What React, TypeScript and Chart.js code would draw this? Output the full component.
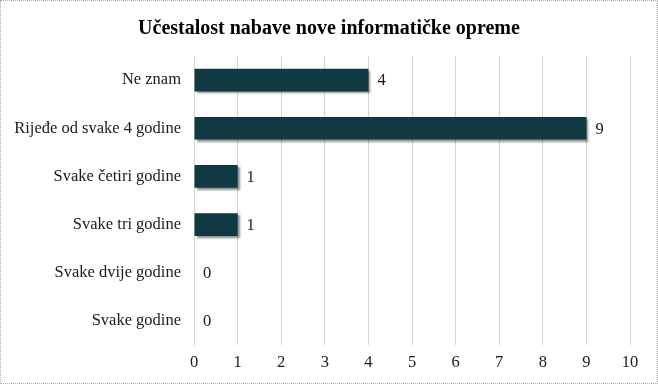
import React, { useEffect, useRef } from "react";
import { Chart, registerables } from "chart.js";

Chart.register(...registerables);

const categories = [
  "Ne znam",
  "Rijeđe od svake 4 godine",
  "Svake četiri godine",
  "Svake tri godine",
  "Svake dvije godine",
  "Svake godine",
];
const values = [4, 9, 1, 1, 0, 0];
const titleText = "Učestalost nabave nove informatičke opreme";
const xMin = 0;
const xMax = 10;

const FONT = "'Liberation Serif', 'Times New Roman', serif";

const shadowPlugin = {
  id: "barShadow",
  beforeDatasetsDraw(chart: any) {
    const ctx = chart.ctx;
    ctx.save();
    ctx.shadowColor = "rgba(0,0,0,0.45)";
    ctx.shadowOffsetX = 2;
    ctx.shadowOffsetY = 2;
    ctx.shadowBlur = 2;
  },
  afterDatasetsDraw(chart: any) {
    const ctx = chart.ctx;
    ctx.restore();
    const meta = chart.getDatasetMeta(0);
    ctx.save();
    ctx.font = `16.5px ${FONT}`;
    ctx.fillStyle = "#1a1a1a";
    ctx.textAlign = "left";
    ctx.textBaseline = "middle";
    meta.data.forEach((el: any, i: number) => {
      ctx.fillText(String(values[i]), el.x + 9, el.y + 1);
    });
    ctx.restore();
  },
  afterDraw(chart: any) {
    const ctx = chart.ctx;
    ctx.save();
    ctx.font = `bold 20px ${FONT}`;
    ctx.fillStyle = "#000";
    ctx.textAlign = "center";
    ctx.textBaseline = "middle";
    ctx.fillText(titleText, chart.width / 2, 29);
    ctx.restore();
  },
};

export default function App() {
  const ref = useRef<HTMLCanvasElement>(null);
  useEffect(() => {
    if (!ref.current) return;
    const chart = new Chart(ref.current, {
      type: "bar",
      data: {
        labels: categories,
        datasets: [
          {
            data: values,
            backgroundColor: "#0f3a44",
            borderWidth: 0,
            barPercentage: 0.47,
            categoryPercentage: 1,
          },
        ],
      },
      options: {
        indexAxis: "y",
        animation: false,
        responsive: false,
        maintainAspectRatio: false,
        layout: { padding: { left: 0, right: 28, top: 56, bottom: 0 } },
        plugins: {
          legend: { display: false },
          tooltip: { enabled: false },
          title: { display: false },
        },
        scales: {
          x: {
            min: xMin,
            max: xMax,
            ticks: {
              stepSize: 1,
              color: "#1a1a1a",
              font: { family: FONT, size: 16.5 },
              padding: 8,
            },
            grid: { color: "#d4d4d4", drawTicks: false },
            border: { display: false },
            afterFit(scale: any) {
              scale.height = 39;
            },
          },
          y: {
            ticks: {
              color: "#1a1a1a",
              font: { family: FONT, size: 16.5 },
              padding: 13,
            },
            grid: { display: false, drawTicks: false },
            border: { display: true, color: "#d4d4d4" },
            afterFit(scale: any) {
              scale.width = 194;
            },
          },
        },
      },
      plugins: [shadowPlugin],
    });
    return () => chart.destroy();
  }, []);
  return (
    <div
      style={{
        position: "fixed",
        left: 0,
        top: 0,
        width: 658,
        height: 384,
        background: "#fff",
      }}
    >
      <canvas ref={ref} width={658} height={384} style={{ display: "block" }} />
      <div
        style={{
          position: "absolute",
          left: 0,
          top: 0,
          width: 658,
          height: 384,
          boxSizing: "border-box",
          border: "1px dotted #aaa",
          pointerEvents: "none",
        }}
      />
    </div>
  );
}
